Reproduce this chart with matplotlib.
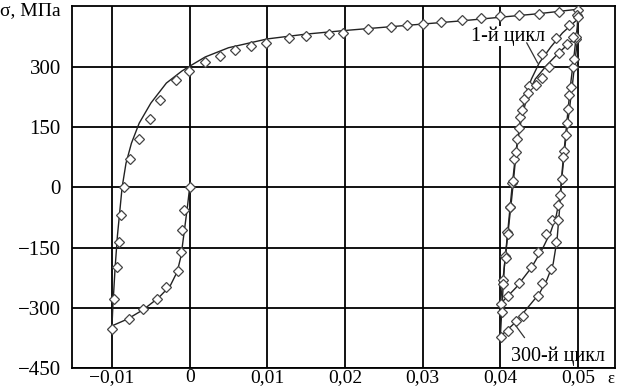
import matplotlib
matplotlib.use("Agg")
import matplotlib.pyplot as plt

plt.rcParams['font.family'] = ['Liberation Serif', 'DejaVu Serif']
plt.rcParams['font.size'] = 14

# model (solid lines)
comp_x = [0, -0.0003, -0.0007, -0.0011, -0.0016, -0.0025, -0.0040, -0.0060, -0.0080, -0.0100]
comp_y = [0, -50, -110, -170, -210, -245, -275, -305, -328, -345]

load_x = [-0.0100, -0.0099, -0.0096, -0.0093, -0.0090, -0.0087, -0.0082, -0.0075, -0.0065, -0.0050,
          -0.0030, -0.0010, 0.0, 0.002, 0.005, 0.010, 0.015, 0.020, 0.025, 0.030, 0.035, 0.040, 0.045, 0.050]
load_y = [-345, -300, -200, -120, -60, 0, 60, 110, 160, 210,
          260, 290, 302, 325, 348, 370, 382, 391, 399, 407, 415, 424, 433, 444]

unl1_x = [0.0500, 0.0499, 0.0495, 0.0490, 0.0485, 0.0480, 0.0477, 0.0472, 0.0465, 0.0455, 0.0440, 0.0420, 0.0400]
unl1_y = [444, 400, 330, 250, 150, 50, -20, -70, -110, -150, -200, -250, -290]

rel1_x = [0.0400, 0.0405, 0.0410, 0.0415, 0.0420, 0.0425, 0.0432, 0.0440, 0.0450, 0.0465, 0.0480, 0.0500]
rel1_y = [-290, -200, -110, -20, 80, 160, 230, 270, 310, 350, 385, 420]

unl300_x = [0.0500, 0.0497, 0.0493, 0.0488, 0.0483, 0.0479, 0.0476, 0.0473, 0.0468, 0.0460, 0.0450, 0.0435, 0.0420, 0.0405, 0.0400]
unl300_y = [380, 330, 260, 180, 100, 20, -60, -130, -190, -230, -265, -300, -335, -362, -372]

rel300_x = [0.0400, 0.0402, 0.0405, 0.0410, 0.0415, 0.0420, 0.0427, 0.0435, 0.0445, 0.0460, 0.0475, 0.0490, 0.0500]
rel300_y = [-372, -300, -200, -100, 0, 90, 170, 230, 270, 305, 335, 362, 380]

# experiment (markers)
comp_ex = [0, -0.0007, -0.00095, -0.00116, -0.00154, -0.00305, -0.00425, -0.006, -0.00777, -0.0100]
comp_ey = [0, -57, -105, -160, -208, -249, -278, -303, -328, -353]

load_ex = [-0.0098, -0.0094, -0.0091, -0.00888, -0.00842, -0.00768, -0.00656, -0.00515, -0.00378, -0.00172,
           -0.00005, 0.0020, 0.0039, 0.0059, 0.0079, 0.0098, 0.0128, 0.0150, 0.0179, 0.0198,
           0.0229, 0.0259, 0.0280, 0.0300, 0.0324, 0.0350, 0.0375, 0.0400, 0.0424, 0.0450, 0.0475, 0.0500]
load_ey = [-278, -199, -137, -70, 0, 70, 121, 170, 217, 267,
           289, 312, 327, 342, 352, 361, 372, 378, 382, 385,
           394, 399, 404, 408, 411, 416, 421, 427, 430, 432, 437, 442]

unl1_ex = [0.0499, 0.0497, 0.0493, 0.0489, 0.0486, 0.0482, 0.0479, 0.0474, 0.0467, 0.0459, 0.0448, 0.0440, 0.0424, 0.0410, 0.0401]
unl1_ey = [430, 370, 300, 230, 160, 90, 20, -45, -82, -116, -162, -199, -237, -270, -291]

unl300_ex = [0.0498, 0.0495, 0.0491, 0.0487, 0.0484, 0.0481, 0.0477, 0.0474, 0.0472, 0.0465, 0.0454, 0.0448, 0.0429, 0.0420, 0.0410, 0.0401]
unl300_ey = [375, 320, 250, 195, 130, 75, -18, -82, -137, -203, -238, -270, -320, -334, -359, -372]

rel1_ex = [0.0403, 0.0406, 0.0409, 0.0412, 0.0415, 0.0418, 0.0421, 0.0425, 0.0430, 0.0437, 0.0454, 0.0472, 0.0489, 0.0500]
rel1_ey = [-230, -170, -110, -50, 10, 70, 120, 175, 220, 252, 332, 373, 405, 425]

rel300_ex = [0.0402, 0.0404, 0.0407, 0.0410, 0.0413, 0.0416, 0.0420, 0.0424, 0.0428, 0.0435, 0.0446, 0.0454, 0.0462, 0.0476, 0.0486, 0.0493]
rel300_ey = [-310, -240, -176, -115, -50, 17, 88, 147, 192, 235, 255, 272, 301, 334, 357, 376]

xticks = [-0.01, 0, 0.01, 0.02, 0.03, 0.04, 0.05]
xlabels = ['−0,01', '0', '0,01', '0,02', '0,03', '0,04', '0,05']
yticks = [-450, -300, -150, 0, 150, 300]
ylabels = ['−450', '−300', '−150', '0', '150', '300']

fig = plt.figure(figsize=(6.21, 3.92), dpi=100)
ax = fig.add_axes([72/621, 24/392, 543/621, 362/392])

for xs, ys in [(comp_x, comp_y), (load_x, load_y), (unl1_x, unl1_y), (rel1_x, rel1_y),
               (unl300_x, unl300_y), (rel300_x, rel300_y)]:
    ax.plot(xs, ys, color='#222222', lw=1.0, zorder=3)

for xs, ys in [(comp_ex, comp_ey), (load_ex, load_ey), (unl1_ex, unl1_ey), (unl300_ex, unl300_ey),
               (rel1_ex, rel1_ey), (rel300_ex, rel300_ey)]:
    ax.plot(xs, ys, ls='none', marker='D', ms=4.8, mfc='white', mec='#444444', mew=0.9, zorder=4)

ax.set_xlim(-0.01515, 0.05476)
ax.set_ylim(-450, 452)
ax.set_xticks(xticks)
ax.set_xticklabels(xlabels)
ax.set_yticks(yticks)
ax.set_yticklabels(ylabels)
ax.tick_params(length=0)
ax.tick_params(axis='x', pad=1, labelsize=14)
ax.tick_params(axis='y', pad=8, labelsize=15)
ax.grid(True, color='black', lw=1.3)
for s in ax.spines.values():
    s.set_color('black')
    s.set_linewidth(1.3)

ax.text(0.04097, 377, '1-й цикл', ha='center', va='center', fontsize=14.5,
        bbox=dict(facecolor='white', edgecolor='none', pad=0.5), zorder=5)
ax.plot([0.0434, 0.0448], [360, 310], color='#333333', lw=0.9, zorder=5)
ax.text(0.04747, -420, '300-й цикл', ha='center', va='center', fontsize=14.5, zorder=5)
ax.plot([0.0420, 0.0431], [-345, -374], color='#333333', lw=0.9, zorder=5)

fig.text(611/621, 1 - 379/392, 'ε', ha='center', va='center', fontsize=12)
fig.text(0.0, 1 - 11/392, 'σ, МПа', ha='left', va='center', fontsize=14)

fig.savefig('out.png', dpi=100)
